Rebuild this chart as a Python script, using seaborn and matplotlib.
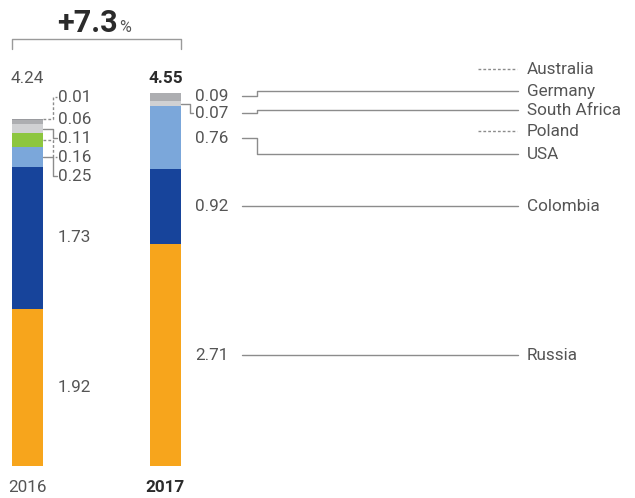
import matplotlib
matplotlib.use("Agg")
import matplotlib.pyplot as plt
import seaborn as sns
import pandas as pd
import numpy as np

# ---------------- data ----------------
years = ["2016", "2017"]
countries = ["Russia", "Colombia", "USA", "Poland", "South Africa", "Germany", "Australia"]
v2016 = [1.92, 1.73, 0.25, 0.16, 0.11, 0.06, 0.01]
v2017 = [2.71, 0.92, 0.76, 0.00, 0.07, 0.09, 0.00]
colors = ["#F7A51C", "#17449B", "#7BA7DA", "#8DC63F", "#D0D1D3", "#ADAEB1", "#9A9B9F"]

# ---------------- layout ----------------
W, H = 635, 498
BASE = 466.0      # pixel row of bar bottoms
S = 81.9          # pixels per unit
X0, X1 = 27.5, 165.5
BARW = 31.0
SP = X1 - X0

sns.set_theme(style="white")
plt.rcParams["font.family"] = ["Roboto", "DejaVu Sans"]

fig = plt.figure(figsize=(W / 100, H / 100), dpi=100)
ax = fig.add_axes([0, 0, 1, 1])

rows = []
for y, vals in zip(years, [v2016, v2017]):
    cum = np.cumsum(vals)
    for c, v, cu in zip(countries, vals, cum):
        rows.append({"year": y, "country": c, "value": v, "cum": cu})
df = pd.DataFrame(rows)

# stacked bars: draw cumulative heights from top layer down
for c, col in reversed(list(zip(countries, colors))):
    sub = df[df["country"] == c]
    sns.barplot(data=sub, x="year", y="cum", order=years, color=col,
                saturation=1, width=BARW / SP, errorbar=None,
                linewidth=0, edgecolor="none", ax=ax)

ax.set_xlim(-X0 / SP, (W - X0) / SP)
ax.set_ylim((BASE - H) / S, BASE / S)
ax.axis("off")

ov = fig.add_axes([0, 0, 1, 1], facecolor="none")
ov.set_xlim(0, W)
ov.set_ylim(H, 0)
ov.axis("off")

def px(v):
    return BASE - S * v

TXT = "#555555"
DARK = "#2b2b2b"
LINE = "#8c8c8c"
FS = 12.3

tot16 = sum(v2016)
tot17 = sum(v2017)
pct = (tot17 / tot16 - 1) * 100

# growth header
ov.text(118, 31.5, f"+{pct:.1f}", ha="right", va="baseline", fontsize=22,
        fontweight="bold", color=DARK)
ov.text(119.5, 31.5, "%", ha="left", va="baseline", fontsize=11.5, color=TXT)
ov.plot([12, 12, 181, 181], [49, 39, 39, 49], color="#9a9a9a", lw=1)

# totals and years
ov.text(X0, 78, f"{tot16:.2f}", ha="center", va="center", fontsize=FS, color=TXT)
ov.text(X1, 78, f"{tot17:.2f}", ha="center", va="center", fontsize=FS,
        fontweight="bold", color=DARK)
ov.text(X0, 487, years[0], ha="center", va="center", fontsize=FS, color=TXT)
ov.text(X1, 487, years[1], ha="center", va="center", fontsize=FS,
        fontweight="bold", color=DARK)

# ---- 2016 labels ----
cum16 = np.cumsum(v2016)
mid16 = cum16 - np.array(v2016) / 2
bar_r16 = X0 + BARW / 2
small_y16 = {"USA": 176, "Poland": 157, "South Africa": 138, "Germany": 119, "Australia": 97}
style16 = {"USA": "-", "Poland": "--", "South Africa": "-", "Germany": None, "Australia": "--"}
for i, c in enumerate(countries):
    if c in small_y16:
        ly = small_y16[c]
        st = style16[c]
        if st is not None:
            sy = px(mid16[i]) if c != "Australia" else px(cum16[i]) + 0.5
            ov.plot([bar_r16, 53, 53, 57], [sy, sy, ly, ly], color=LINE, lw=1,
                    ls=(0, (2, 1.5)) if st == "--" else "-")
        ov.text(58, ly, f"{v2016[i]:.2f}", ha="left", va="center", fontsize=FS,
                color=TXT)
    else:
        ov.text(58, px(mid16[i]), f"{v2016[i]:.2f}", ha="left", va="center",
                fontsize=FS, color=TXT)

# ---- 2017 labels and legend ----
cum17 = np.cumsum(v2017)
mid17 = cum17 - np.array(v2017) / 2
bar_r17 = X1 + BARW / 2
lab_y17 = {"Germany": 96, "South Africa": 113, "USA": 138}
name_y = {"Australia": 69, "Germany": 91, "South Africa": 110, "Poland": 131, "USA": 154}
for i, c in enumerate(countries):
    if v2017[i] > 0:
        ly = lab_y17.get(c, px(mid17[i]))
        if c == "South Africa":
            sy = px(mid17[i])
            ov.plot([bar_r17, 190, 190, 193], [sy, sy, ly, ly], color=LINE, lw=1)
        ov.text(195, ly, f"{v2017[i]:.2f}", ha="left", va="center", fontsize=FS,
                color=TXT)
        ny = name_y.get(c, ly)
        ov.plot([242, 257, 257, 518], [ly, ly, ny, ny], color=LINE, lw=1)
    else:
        ny = name_y[c]
        ov.plot([478, 517], [ny, ny], color=LINE, lw=1, ls=(0, (2, 1.5)))
    ov.text(527, ny, c, ha="left", va="center", fontsize=FS, color=TXT)

fig.savefig("out.png", dpi=100)
